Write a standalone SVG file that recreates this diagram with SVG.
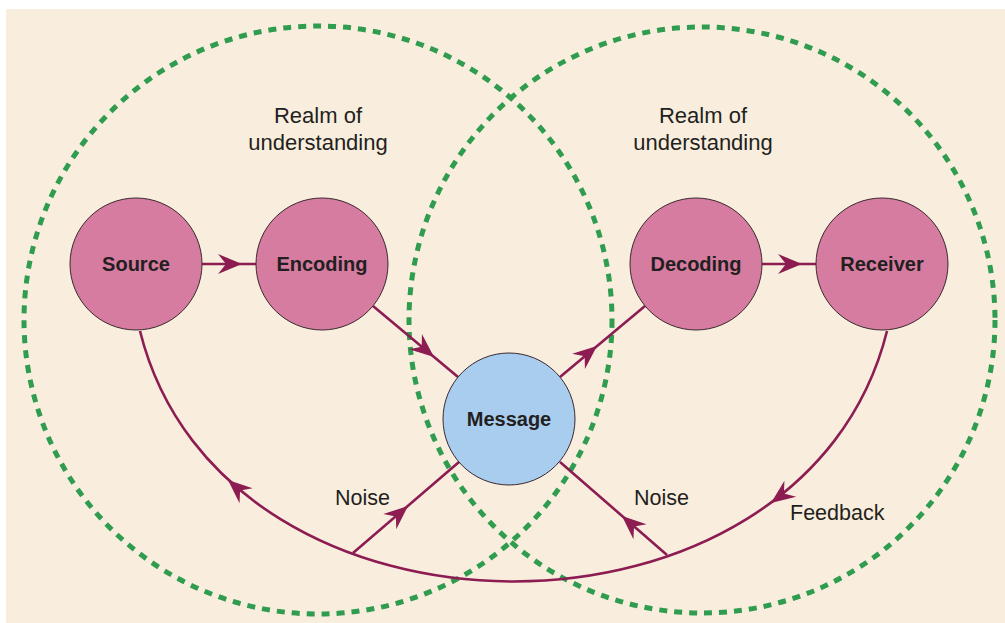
<svg xmlns="http://www.w3.org/2000/svg" xmlns:xlink="http://www.w3.org/1999/xlink" width="1005" height="623" viewBox="0 0 1005 623">
<style>
.realm{fill:none;stroke:#2f9c4f;stroke-width:5;stroke-dasharray:8 7}
.conn{fill:none;stroke:#8c1c52;stroke-width:2.6}
.ah{fill:#8c1c52}
.node{fill:#d57ca0;stroke:#3a2a30;stroke-width:1}
.msg{fill:#a9cdee;stroke:#3a2a30;stroke-width:1}
.nl{font-family:"Liberation Sans",Arial,sans-serif;font-weight:bold;font-size:20px;fill:#231f20;text-anchor:middle}
.lbl{font-family:"Liberation Sans",Arial,sans-serif;font-size:21.5px;fill:#231f20}
.rl{font-family:"Liberation Sans",Arial,sans-serif;font-size:22px;fill:#231f20;text-anchor:middle}
</style>
<defs>
<path id="ah" class="ah" d="M0,0 L-24,-10 L-16,0 L-24,10 Z"/>
</defs>
<rect x="0" y="0" width="1005" height="623" fill="#ffffff"/>
<rect x="6" y="9" width="999" height="614" fill="#f9eedd"/>
<g id="realms">
<circle class="realm" cx="318" cy="320" r="294"/>
<circle class="realm" cx="702" cy="320" r="293"/>
</g>
<g id="connectors">
<line class="conn" x1="202" y1="264" x2="256" y2="264"/>
<use xlink:href="#ah" transform="translate(242,264)"/>
<line class="conn" x1="762" y1="264" x2="816" y2="264"/>
<use xlink:href="#ah" transform="translate(802,264)"/>
<line class="conn" x1="373" y1="306" x2="458" y2="377"/>
<use xlink:href="#ah" transform="translate(434,357) rotate(39.7)"/>
<line class="conn" x1="560" y1="377" x2="645" y2="306"/>
<use xlink:href="#ah" transform="translate(597,346) rotate(-39.7)"/>
<path class="conn" d="M140,331 C223,665 804,665 887,331"/>
<use xlink:href="#ah" transform="translate(228,480) rotate(-138.9)"/>
<use xlink:href="#ah" transform="translate(771,503) rotate(143.7)"/>
<line class="conn" x1="353" y1="553" x2="459" y2="462"/>
<use xlink:href="#ah" transform="translate(408,506) rotate(-40.6)"/>
<line class="conn" x1="667" y1="555" x2="560" y2="462"/>
<use xlink:href="#ah" transform="translate(622,516) rotate(-138.7)"/>
</g>
<g id="source"><circle class="node" cx="136" cy="264" r="66"/><text class="nl" x="136" y="271">Source</text></g>
<g id="encoding"><circle class="node" cx="322" cy="264" r="66"/><text class="nl" x="322" y="271">Encoding</text></g>
<g id="decoding"><circle class="node" cx="696" cy="264" r="66"/><text class="nl" x="696" y="271">Decoding</text></g>
<g id="receiver"><circle class="node" cx="882" cy="264" r="66"/><text class="nl" x="882" y="271">Receiver</text></g>
<g id="message"><circle class="msg" cx="509" cy="419" r="66"/><text class="nl" x="509" y="426">Message</text></g>
<g id="labels">
<text class="rl" x="318" y="123">Realm of</text>
<text class="rl" x="318" y="150">understanding</text>
<text class="rl" x="703" y="123">Realm of</text>
<text class="rl" x="703" y="150">understanding</text>
<text class="lbl" x="335" y="505">Noise</text>
<text class="lbl" x="634" y="505">Noise</text>
<text class="lbl" x="790" y="520">Feedback</text>
</g>
</svg>
